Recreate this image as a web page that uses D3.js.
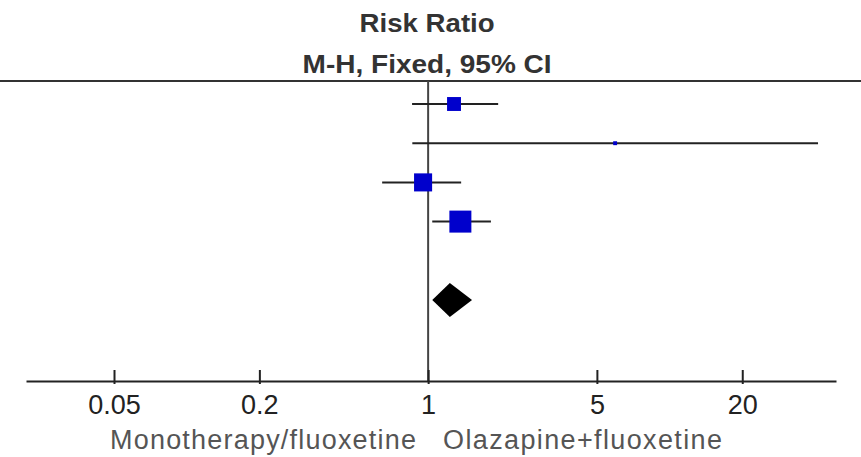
<!DOCTYPE html>
<html>
<head>
<meta charset="utf-8">
<script src="https://cdnjs.cloudflare.com/ajax/libs/d3/7.8.5/d3.min.js"></script>
<style>
  body { margin: 0; background: #fff; }
  svg { display: block; font-family: "Liberation Sans", Arial, sans-serif; }
</style>
</head>
<body>
<div id="chart"></div>
<script>
// study rows (top to bottom), risk ratio with 95% CI and weight (%)
var rr     = [1.28, 5.95, 0.953, 1.36];
var ciLow  = [0.858, 0.86, 0.645, 1.04];
var ciHigh = [1.95, 41.2, 1.37, 1.82];
var weight = [19, 1.5, 32, 47.5];

// pooled estimate (diamond)
var totalRR = [1.23];
var totalLow = [1.04];
var totalHigh = [1.52];

var tickValues = [0.05, 0.2, 1, 5, 20];
var tickLabels = ["0.05", "0.2", "1", "5", "20"];
var titleLines = ["Risk Ratio", "M-H, Fixed, 95% CI"];
var favoursLeft = "Monotherapy/fluoxetine",
    favoursRight = "Olazapine+fluoxetine";

var W = 861, H = 457;
var axisY = 381, headerY = 81;

var svg = d3.select("#chart").append("svg")
    .attr("width", W)
    .attr("height", H);

var x = d3.scaleLog().domain([0.0216, 48.9]).range([26, 836]);
var y = d3.scaleLinear().domain([0, 5]).range([104, 300]);   // row index -> y
var box = d3.scaleSqrt().domain([0, 47.5]).range([0, 22]);   // weight -> square side

// titles
svg.selectAll("text.title")
  .data(titleLines)
  .enter().append("text")
    .attr("class", "title")
    .attr("x", x(1) - 1)
    .attr("y", function(d, i) { return i == 0 ? 32 : 73; })
    .attr("text-anchor", "middle")
    .attr("font-size", 26)
    .attr("font-weight", "bold")
    .attr("fill", "#333")
    .attr("textLength", function(d, i) { return i == 0 ? 135 : 249; })
    .attr("lengthAdjust", "spacingAndGlyphs")
    .text(function(d) { return d; });

// header rule
svg.append("line")
    .attr("x1", 0).attr("x2", W)
    .attr("y1", headerY).attr("y2", headerY)
    .attr("stroke", "#333")
    .attr("stroke-width", 2);

// line of no effect
svg.append("line")
    .attr("x1", x(1)).attr("x2", x(1))
    .attr("y1", headerY).attr("y2", axisY)
    .attr("stroke", "#444")
    .attr("stroke-width", 2);

// x axis
var axis = svg.append("g")
    .attr("transform", "translate(0," + axisY + ")")
    .call(d3.axisBottom(x)
        .tickValues(tickValues)
        .tickFormat(function(d, i) { return tickLabels[i]; })
        .tickSizeInner(-11)
        .tickSizeOuter(0)
        .tickPadding(14));

axis.select(".domain").attr("stroke", "#222").attr("stroke-width", 2);
axis.selectAll(".tick line").attr("stroke", "#222").attr("stroke-width", 2).attr("y2", -11).attr("y1", 3);
axis.selectAll(".tick text")
    .attr("font-size", 27)
    .attr("font-family", "Liberation Sans, Arial, sans-serif")
    .attr("fill", "#222");

// favours labels
svg.append("text")
    .attr("x", 110).attr("y", 449)
    .attr("font-size", 27)
    .attr("fill", "#555")
    .attr("textLength", 306)
    .attr("lengthAdjust", "spacing")
    .text(favoursLeft);

svg.append("text")
    .attr("x", 443).attr("y", 449)
    .attr("font-size", 27)
    .attr("fill", "#555")
    .attr("textLength", 279)
    .attr("lengthAdjust", "spacing")
    .text(favoursRight);

// confidence intervals
var rows = d3.range(rr.length);

svg.selectAll("line.ci")
  .data(rows)
  .enter().append("line")
    .attr("class", "ci")
    .attr("x1", function(i) { return x(ciLow[i]); })
    .attr("x2", function(i) { return x(ciHigh[i]); })
    .attr("y1", function(i) { return y(i); })
    .attr("y2", function(i) { return y(i); })
    .attr("stroke", "#222")
    .attr("stroke-width", 2);

// weighted squares
svg.selectAll("rect.est")
  .data(rows)
  .enter().append("rect")
    .attr("class", "est")
    .attr("x", function(i) { return x(rr[i]) - box(weight[i]) / 2; })
    .attr("y", function(i) { return y(i) - box(weight[i]) / 2; })
    .attr("width", function(i) { return box(weight[i]); })
    .attr("height", function(i) { return box(weight[i]); })
    .attr("fill", "#0000cc");

// pooled diamond
svg.selectAll("path.total")
  .data(totalRR)
  .enter().append("path")
    .attr("class", "total")
    .attr("d", function(d, i) {
      var cy = y(5), h = 17;
      return "M" + x(totalLow[i]) + "," + cy +
             "L" + x(d) + "," + (cy - h) +
             "L" + x(totalHigh[i]) + "," + cy +
             "L" + x(d) + "," + (cy + h) + "Z";
    })
    .attr("fill", "#000");
</script>
</body>
</html>
